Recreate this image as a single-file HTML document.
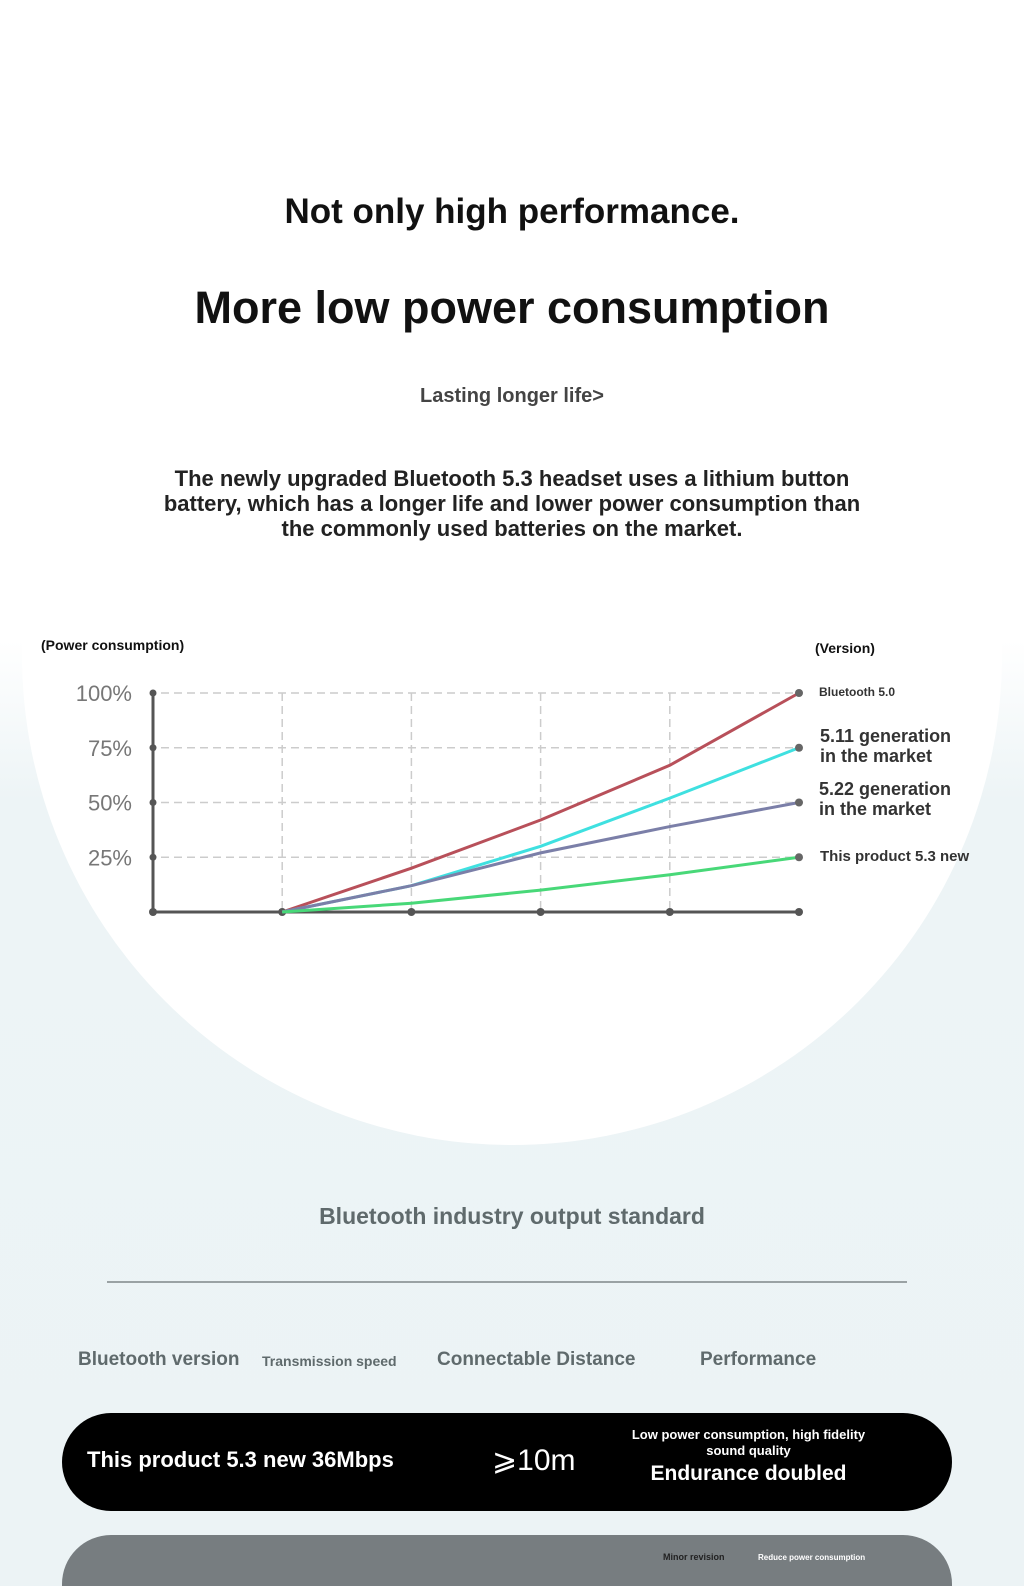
<!DOCTYPE html>
<html><head><meta charset="utf-8">
<style>
html,body{margin:0;padding:0;width:1024px;height:1586px;overflow:hidden}
body{position:relative;font-family:"Liberation Sans",sans-serif;
background:linear-gradient(#ffffff 0px,#ffffff 640px,#edf4f6 800px,#ecf3f5 1586px);}
.circle{position:absolute;left:22px;top:165px;width:980px;height:980px;border-radius:50%;background:#fff;}
.t{position:absolute;left:0;width:1024px;text-align:center;font-weight:bold;}
.pill{position:absolute;left:62px;width:890px;height:98px;border-radius:49px;}
.w{position:absolute;color:#fff;font-weight:bold;}
</style></head><body>
<div class="circle"></div>
<div class="t" style="top:192px;font-size:35px;color:#111;">Not only high performance.</div>
<div class="t" style="top:282px;font-size:45px;color:#111;">More low power consumption</div>
<div class="t" style="top:385px;font-size:20px;color:#444;">Lasting longer life&gt;</div>
<div class="t" style="top:466px;font-size:22px;line-height:25px;color:#222;">The newly upgraded Bluetooth 5.3 headset uses a lithium button<br>battery, which has a longer life and lower power consumption than<br>the commonly used batteries on the market.</div>

<svg id="chart" width="1024" height="320" style="position:absolute;left:0;top:630px" viewBox="0 630 1024 320"></svg>

<div class="t" style="top:1203px;font-size:23px;color:#5f6a6c;">Bluetooth industry output standard</div>
<div style="position:absolute;left:107px;top:1281px;width:800px;height:2px;background:#9aa2a4"></div>
<div style="position:absolute;left:78px;top:1349px;font-size:19px;font-weight:bold;color:#5f6a6c">Bluetooth version</div>
<div style="position:absolute;left:262px;top:1353px;font-size:14px;font-weight:bold;color:#5f6a6c">Transmission speed</div>
<div style="position:absolute;left:437px;top:1349px;font-size:19px;font-weight:bold;color:#5f6a6c">Connectable Distance</div>
<div style="position:absolute;left:700px;top:1349px;font-size:19px;font-weight:bold;color:#5f6a6c">Performance</div>

<div class="pill" style="top:1413px;background:#000;">
<div class="w" style="left:25px;top:34px;font-size:22px">This product 5.3 new 36Mbps</div>
<div class="w" style="left:430px;top:30px;font-size:30px;font-weight:normal">⩾10m</div>
<div class="w" style="left:545px;top:14px;width:283px;text-align:center;font-size:13px;line-height:16px">Low power consumption, high fidelity<br>sound quality</div>
<div class="w" style="left:545px;top:49px;width:283px;text-align:center;font-size:21px">Endurance doubled</div>
</div>
<div class="pill" style="top:1535px;height:51px;border-radius:49px 49px 0 0;background:#777d80;">
<div class="w" style="left:601px;top:17px;font-size:9px;color:#222">Minor revision</div>
<div class="w" style="left:696px;top:18px;font-size:8px;color:#fff">Reduce power consumption</div>
</div>

<script>
const xCats=[0,1,2,3,4,5];
const yTicks=[25,50,75,100];
const yLabels=["25%","50%","75%","100%"];
const seriesNames=["Bluetooth 5.0","5.11 generation","5.22 generation","This product 5.3 new"];
const redVals=[0,20,42,67,100];
const cyanVals=[0,12,30,52,75];
const purpleVals=[0,12,27,39,50];
const greenVals=[0,4,10,17,25];
const colors=["#b8505a","#3fe0e0","#7b7fa8","#48d878"];
const X=i=>153+i*129.2;
const Y=v=>912-v*2.19;
const svg=document.getElementById('chart');
const NS="http://www.w3.org/2000/svg";
function el(t,a){const e=document.createElementNS(NS,t);for(const k in a)e.setAttribute(k,a[k]);svg.appendChild(e);return e;}
function tx(x,y,s,size,col,anchor){const e=el('text',{x:x,y:y,'font-size':size,fill:col,'font-weight':'bold','font-family':'Liberation Sans, sans-serif','text-anchor':anchor||'start'});e.textContent=s;return e;}
let e=tx(41,650,"(Power consumption)",14,"#111");


e=tx(815,653,"(Version)",14,"#111");


yTicks.forEach((v,i)=>{
 const g=el('line',{x1:X(0)+8,x2:X(5),y1:Y(v),y2:Y(v),stroke:'#ccc','stroke-width':1.5,'stroke-dasharray':'8 5'});
 
 
 const t=tx(132,Y(v)+8,yLabels[i],22,'#777','end');t.setAttribute('font-weight','normal');
 
 
 const d=el('circle',{cx:X(0),cy:Y(v),r:3.5,fill:'#555'});
 
 
});
xCats.slice(1,5).forEach(i=>{
 const g=el('line',{x1:X(i),x2:X(i),y1:Y(100),y2:Y(0),stroke:'#ccc','stroke-width':1.5,'stroke-dasharray':'8 5'});
 
 
});
e=el('line',{x1:X(0),x2:X(0),y1:Y(100),y2:Y(0),stroke:'#555','stroke-width':3});


e=el('line',{x1:X(0),x2:X(5),y1:Y(0),y2:Y(0),stroke:'#555','stroke-width':3});


xCats.forEach(i=>{const d=el('circle',{cx:X(i),cy:Y(0),r:4,fill:'#555'});
 
 });
[redVals,cyanVals,purpleVals,greenVals].forEach((vals,s)=>{
 const pts=vals.map((v,j)=>X(j+1)+','+Y(v)).join(' ');
 const p=el('polyline',{points:pts,fill:'none',stroke:colors[s],'stroke-width':3});
 
 
 const d=el('circle',{cx:X(5),cy:Y(vals[vals.length-1]),r:4,fill:'#666'});
 
 
});
e=tx(819,696,"Bluetooth 5.0",12,"#333");
e=tx(820,742,"5.11 generation",18,"#333");
e=tx(820,762,"in the market",18,"#333");
e=tx(819,795,"5.22 generation",18,"#333");
e=tx(819,815,"in the market",18,"#333");
e=tx(820,861,"This product 5.3 new",15,"#333");
</script>
</body></html>
